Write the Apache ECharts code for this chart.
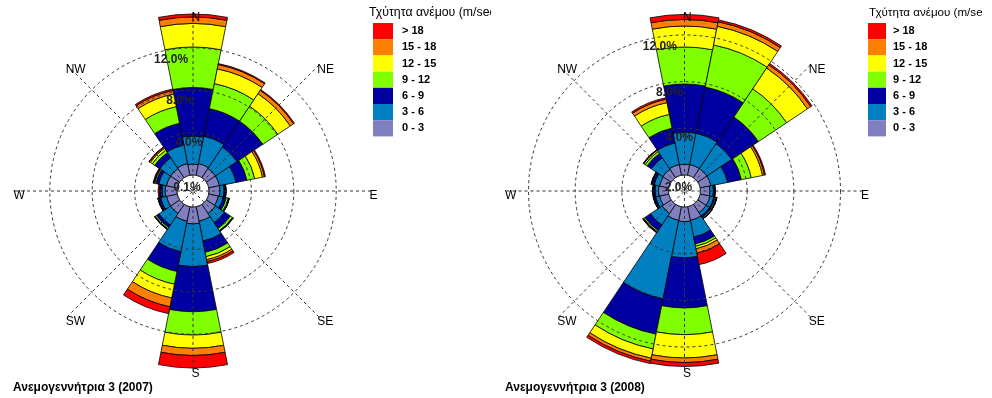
<!DOCTYPE html>
<html>
<head>
<meta charset="utf-8">
<script src="https://cdn.jsdelivr.net/npm/echarts@6/dist/echarts.min.js"></script>
<style>
  html, body { margin: 0; padding: 0; background: #fff; }
  .panel { position: absolute; top: 0; width: 491px; height: 398px; overflow: hidden; }
  .rose { width: 600px; height: 398px; }
</style>
</head>
<body>
<div class="panel" style="left:0"><div id="rose2007" class="rose"></div></div>
<div class="panel" style="left:491px"><div id="rose2008" class="rose"></div></div>
<script>
// 16 compass sectors, clockwise from north
const directions = ['N', 'NNE', 'NE', 'ENE', 'E', 'ESE', 'SE', 'SSE', 'S', 'SSW', 'SW', 'WSW', 'W', 'WNW', 'NW', 'NNW'];
const speedClasses = ['0 - 3', '3 - 6', '6 - 9', '9 - 12', '12 - 15', '15 - 18', '> 18'];
const legendOrder = ['> 18', '15 - 18', '12 - 15', '9 - 12', '6 - 9', '3 - 6', '0 - 3'];
const classColors = ['#8080C0', '#0080C0', '#0000A0', '#80FF00', '#FFFF00', '#FF8000', '#FF0000'];
const ringTicks = [4, 8, 12];

// Frequency of occurrence (%) per direction, 2007
const f2007_0_3   = [1.04, 1.13, 1.04, 1.04, 1.04, 0.94, 1.04, 1.40, 1.60, 1.40, 1.04, 1.04, 1.13, 1.04, 1.04, 1.13];
const f2007_3_6   = [2.64, 2.64, 2.45, 1.60, 0.38, 0.47, 1.04, 1.91, 4.03, 2.94, 1.32, 0.57, 0.28, 0.75, 1.23, 1.79];
const f2007_6_9   = [4.58, 2.64, 2.92, 1.04, 0.12, 0.28, 0.66, 1.08, 4.25, 1.89, 0.28, 0.19, 0.19, 0.28, 0.57, 2.08];
const f2007_9_12  = [3.82, 2.41, 1.70, 0.75, 0.04, 0.19, 0.24, 0.42, 2.20, 1.23, 0.14, 0.05, 0.03, 0.12, 0.28, 1.60];
const f2007_12_15 = [2.22, 1.42, 1.42, 0.75, 0.02, 0.08, 0.05, 0.28, 1.25, 1.32, 0.05, 0.01, 0.02, 0.05, 0.22, 1.23];
const f2007_15_18 = [0.61, 0.42, 0.38, 0.19, 0.01, 0.02, 0.03, 0.19, 0.68, 0.85, 0.02, 0.01, 0.02, 0.04, 0.11, 0.33];
const f2007_gt18  = [0.28, 0.09, 0.09, 0.09, 0.01, 0.01, 0.02, 0.19, 1.18, 0.66, 0.01, 0.01, 0.12, 0.06, 0.05, 0.14];
const calms2007 = '0.1%';

// Frequency of occurrence (%) per direction, 2008
const f2008_0_3   = [0.92, 0.94, 0.94, 0.94, 0.81, 0.86, 0.86, 1.20, 1.26, 1.20, 0.94, 0.81, 0.86, 0.81, 0.86, 0.94];
const f2008_3_6   = [2.77, 2.74, 2.57, 1.46, 0.30, 0.34, 0.34, 1.46, 3.11, 6.86, 1.20, 0.34, 0.30, 0.47, 1.20, 1.89];
const f2008_6_9   = [4.11, 4.03, 2.74, 1.20, 0.09, 0.13, 0.17, 0.60, 4.28, 3.08, 0.56, 0.13, 0.13, 0.17, 0.43, 1.29];
const f2008_9_12  = [3.17, 3.68, 2.91, 0.86, 0.03, 0.09, 0.09, 0.21, 2.29, 1.29, 0.13, 0.04, 0.03, 0.04, 0.21, 1.20];
const f2008_12_15 = [1.80, 1.63, 2.14, 0.99, 0.02, 0.03, 0.02, 0.21, 2.00, 0.81, 0.06, 0.02, 0.02, 0.03, 0.13, 1.03];
const f2008_15_18 = [0.56, 0.39, 0.34, 0.17, 0.01, 0.01, 0.01, 0.39, 0.39, 0.26, 0.03, 0.01, 0.01, 0.02, 0.04, 0.30];
const f2008_gt18  = [0.43, 0.17, 0.13, 0.09, 0.01, 0.01, 0.01, 0.99, 0.34, 0.21, 0.02, 0.01, 0.01, 0.02, 0.03, 0.13];
const calms2008 = '2.0%';

const FONT = '"Liberation Sans", Arial, sans-serif';
const dash = { type: [3, 3], color: '#333', width: 1 };

function roseOption(rose) {
  const maxPct = (rose.outer - rose.hole) / rose.pxPerPct;
  const ringOuter = rose.hole + ringTicks[ringTicks.length - 1] * rose.pxPerPct;
  const center = [rose.cx, rose.cy];

  const polar = [
    { center, radius: [rose.hole, rose.outer] },   // bars
    { center, radius: [rose.hole, ringOuter] },    // percentage rings
    { center, radius: [0, rose.outer] }            // compass spokes
  ];
  const angleAxis = [
    { polarIndex: 0, type: 'category', data: directions, boundaryGap: false, startAngle: 90, show: false },
    { polarIndex: 1, type: 'value', min: 0, max: 360, startAngle: 102, show: false },
    { polarIndex: 2, type: 'category', data: directions, boundaryGap: false, startAngle: 90, z: 10,
      axisLine: { show: false }, axisTick: { show: false, interval: 1 },
      axisLabel: { show: false, interval: 1 },
      splitLine: { show: true, interval: 1, lineStyle: dash } }
  ];
  const radiusAxis = [
    { polarIndex: 0, min: 0, max: maxPct, show: false },
    { polarIndex: 1, min: 0, max: ringTicks[ringTicks.length - 1], interval: 4, z: 10,
      axisLine: { show: false }, axisTick: { show: false },
      splitLine: { show: true, showMinLine: false, lineStyle: dash },
      axisLabel: { margin: -8, align: 'center', verticalAlign: 'top', padding: [4, 0, 0, 0],
        fontFamily: FONT, fontSize: 12, fontWeight: 'bold', color: '#222',
        formatter: v => (v === 0 ? '' : v.toFixed(1) + '%') } },
    { polarIndex: 2, min: 0, max: 1, show: false }
  ];

  const series = speedClasses.map((name, i) => ({
    type: 'bar', name, coordinateSystem: 'polar', polarIndex: 0,
    stack: 'rose', data: rose.classes[i], barCategoryGap: '0%',
    itemStyle: { color: classColors[i], borderColor: '#000', borderWidth: 0.8 },
    emphasis: { disabled: true }, silent: true
  }));

  // compass point names, each hung from the end of its spoke by the top-left corner
  const graphic = directions
    .map((name, i) => ({ name, angle: i * 22.5 * Math.PI / 180 }))
    .filter((d, i) => i % 2 === 0)
    .map(d => ({
      type: 'text', z: 20, silent: true,
      x: rose.cx + rose.outer * Math.sin(d.angle) - 1.5,
      y: rose.cy - rose.outer * Math.cos(d.angle) - 1,
      style: { text: d.name, align: 'left', verticalAlign: 'top', font: '12px ' + FONT, fill: '#000' }
    }));
  // calms in the centre circle
  graphic.push({ type: 'text', x: rose.cx - 6, y: rose.cy - 3, z: 20, silent: true,
    style: { text: rose.calms, align: 'center', verticalAlign: 'middle',
      font: 'bold 12px ' + FONT, fill: '#222' } });

  return {
    animation: false,
    textStyle: { fontFamily: FONT },
    title: [
      { text: 'Τχύτητα ανέμου (m/sec)', left: rose.legendTitleX, top: 7, padding: 0,
        textStyle: { fontFamily: FONT, fontSize: rose.legendTitleSize, fontWeight: 'normal', color: '#000' } },
      { text: rose.caption, left: rose.captionX, top: 382, padding: 0,
        textStyle: { fontFamily: FONT, fontSize: 12, fontWeight: 'bold', color: '#000' } }
    ],
    legend: {
      orient: 'vertical', left: rose.legendX, top: 23, padding: 0, itemGap: 0,
      itemWidth: rose.swatchWidth, itemHeight: 16.2, icon: 'rect',
      data: legendOrder, selectedMode: false, itemStyle: { borderWidth: 0 },
      textStyle: { fontFamily: FONT, fontSize: 11, fontWeight: 'bold', color: '#000',
        padding: [0, 0, 0, rose.legendTextGap] }
    },
    polar, angleAxis, radiusAxis, series, graphic
  };
}

const roses = [
  { el: 'rose2007', cx: 193, cy: 191, hole: 16, outer: 178, pxPerPct: 10.6,
    classes: [f2007_0_3, f2007_3_6, f2007_6_9, f2007_9_12, f2007_12_15, f2007_15_18, f2007_gt18],
    calms: calms2007, caption: 'Ανεμογεννήτρια 3 (2007)', captionX: 13,
    legendX: 373, swatchWidth: 20, legendTextGap: 4, legendTitleX: 369, legendTitleSize: 12.3 },
  { el: 'rose2008', cx: 193.5, cy: 191, hole: 16, outer: 178, pxPerPct: 11.67,
    classes: [f2008_0_3, f2008_3_6, f2008_6_9, f2008_9_12, f2008_12_15, f2008_15_18, f2008_gt18],
    calms: calms2008, caption: 'Ανεμογεννήτρια 3 (2008)', captionX: 14,
    legendX: 377, swatchWidth: 18, legendTextGap: 2, legendTitleX: 378, legendTitleSize: 11.6 }
];

roses.forEach(rose => {
  const chart = echarts.init(document.getElementById(rose.el), null, { renderer: 'canvas' });
  chart.setOption(roseOption(rose));
});
</script>
</body>
</html>
